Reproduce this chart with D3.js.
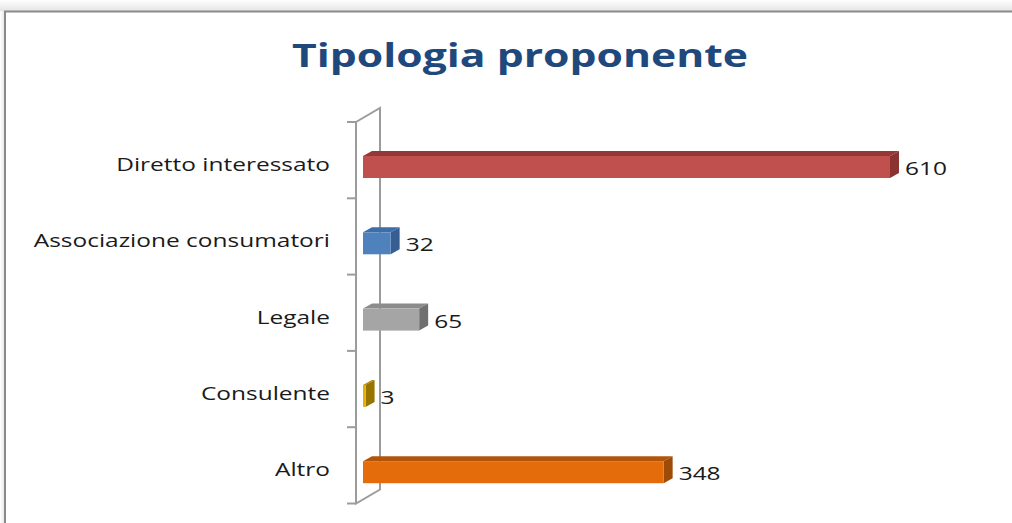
<!DOCTYPE html>
<html>
<head>
<meta charset="utf-8">
<script src="https://cdn.jsdelivr.net/npm/d3@7/dist/d3.min.js"></script>
<style>
html,body{margin:0;padding:0;background:#fff;}
svg{display:block;}
</style>
</head>
<body>
<svg id="chart" width="1012" height="523"></svg>
<script>
const title = "Tipologia proponente";
const categories = ["Diretto interessato", "Associazione consumatori", "Legale", "Consulente", "Altro"];
const values = [610, 32, 65, 3, 348];
const frontColors = ["#C0504D", "#4F81BD", "#A5A5A5", "#E6AE00", "#E46C0A"];
const topColors = ["#953735", "#3F6DAA", "#8C8C8C", "#B08800", "#B35508"];
const sideColors = ["#8A3331", "#365E92", "#707070", "#977400", "#9E4B07"];

const svg = d3.select("#chart");

// background shadow + frame
const defs = svg.append("defs");
const g1 = defs.append("linearGradient").attr("id","shTop").attr("x1",0).attr("y1",0).attr("x2",0).attr("y2",1);
g1.append("stop").attr("offset","0%").attr("stop-color","#ffffff");
g1.append("stop").attr("offset","100%").attr("stop-color","#e4e4e4");
const g2 = defs.append("linearGradient").attr("id","shLeft").attr("x1",0).attr("y1",0).attr("x2",1).attr("y2",0);
g2.append("stop").attr("offset","0%").attr("stop-color","#ffffff");
g2.append("stop").attr("offset","100%").attr("stop-color","#e4e4e4");
svg.append("rect").attr("x",0).attr("y",0).attr("width",1012).attr("height",11).attr("fill","url(#shTop)");
svg.append("rect").attr("x",0).attr("y",11).attr("width",5).attr("height",512).attr("fill","url(#shLeft)");
svg.append("rect").attr("x",5).attr("y",11.5).attr("width",1100).attr("height",600)
  .attr("fill","#fff").attr("stroke","#8a8a8a").attr("stroke-width",2);

// scales
const x = d3.scaleLinear().domain([0, 610]).range([363, 890]);
const y = d3.scaleBand().domain(categories).range([122, 503.5]);
const depthX = 24, depthY = -14;   // wall depth
const bdx = 9, bdy = -5;           // bar depth
const frontOff = 34, barH = 22;
const x0 = 356;

// wall
const wall = svg.append("g").attr("stroke","#9c9c9c").attr("stroke-width",2).attr("fill","none");
const yTop = y.range()[0], yBot = y.range()[1];
wall.append("path").attr("fill","#fff")
  .attr("d", `M${x0},${yTop} L${x0+depthX},${yTop+depthY} L${x0+depthX},${yBot+depthY} L${x0},${yBot} Z`);
// ticks
const tickYs = categories.map(c => y(c)).concat([yBot]);
wall.selectAll("line.tick").data(tickYs).enter().append("line")
  .attr("x1", x0-9).attr("x2", x0).attr("y1", d=>d).attr("y2", d=>d);

// bars
const data = categories.map((c,i)=>({c, v: values[i], i}));
const bars = svg.append("g").selectAll("g").data(data).enter().append("g");
bars.append("path").attr("fill", d=>topColors[d.i])
  .attr("d", d=>{
    const x1 = x(0), x2 = x(d.v), yy = y(d.c)+frontOff;
    return `M${x1},${yy} L${x1+bdx},${yy+bdy} L${x2+bdx},${yy+bdy} L${x2},${yy} Z`;
  });
bars.append("path").attr("fill", d=>sideColors[d.i])
  .attr("d", d=>{
    const x2 = x(d.v), yy = y(d.c)+frontOff;
    return `M${x2},${yy} L${x2+bdx},${yy+bdy} L${x2+bdx},${yy+bdy+barH} L${x2},${yy+barH} Z`;
  });
bars.append("rect").attr("fill", d=>frontColors[d.i])
  .attr("x", x(0)).attr("y", d=>y(d.c)+frontOff)
  .attr("width", d=>x(d.v)-x(0)).attr("height", barH);

// title
const tt = svg.append("text").text(title)
  .attr("font-family","'Open Sans', sans-serif").attr("font-weight",700)
  .attr("font-size",32).attr("fill","#1F497D").attr("text-anchor","middle");
const tw = tt.node().getComputedTextLength();
tt.attr("transform", `translate(520,67) scale(${456/tw},1)`);

// category labels
const labFont = "'Open Sans', sans-serif";
const labs = svg.append("g").selectAll("text").data(data).enter().append("text")
  .text(d=>d.c).attr("font-family",labFont).attr("font-size",19).attr("fill","#1a1a1a")
  .attr("text-anchor","end");
const refW = labs.filter(d=>d.i===0).node().getComputedTextLength();
const sx = 214/refW;
labs.attr("transform", d=>`translate(330,${y(d.c)+49}) scale(${sx},1)`);

// value labels
svg.append("g").selectAll("text").data(data).enter().append("text")
  .text(d=>d.v).attr("font-family",labFont).attr("font-size",19).attr("fill","#1a1a1a")
  .attr("transform", d=>`translate(${x(d.v)+bdx+6},${y(d.c)+frontOff+19}) scale(${sx},1)`);
</script>
</body>
</html>
